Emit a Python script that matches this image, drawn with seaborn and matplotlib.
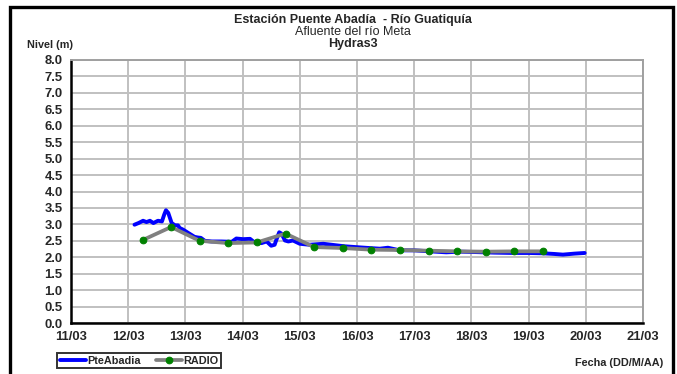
import pandas as pd
import matplotlib
matplotlib.use("Agg")
import matplotlib.pyplot as plt
from matplotlib import font_manager
import seaborn as sns
from matplotlib.patches import Rectangle

# --- data (day of March, level in m) ---
pte_day = [12.11, 12.18, 12.26, 12.32, 12.38, 12.44, 12.52, 12.59, 12.63, 12.66, 12.70,
           12.76, 12.82, 12.87, 12.90, 12.96, 13.05, 13.16, 13.22, 13.27, 13.34, 13.46,
           13.63, 13.81, 13.89, 14.01, 14.13, 14.21, 14.33, 14.42, 14.50, 14.56, 14.59,
           14.64, 14.68, 14.74, 14.80, 14.88, 15.00, 15.17, 15.41, 15.70, 15.81, 16.05,
           16.22, 16.40, 16.54, 16.75, 17.00, 17.27, 17.56, 17.80, 18.03, 18.40, 18.73,
           19.00, 19.25, 19.45, 19.60, 19.80, 19.98]
pte_level = [2.99, 3.04, 3.11, 3.07, 3.11, 3.04, 3.11, 3.09, 3.30, 3.43, 3.35,
             3.04, 2.97, 2.97, 2.89, 2.84, 2.74, 2.62, 2.60, 2.59, 2.50, 2.48,
             2.48, 2.47, 2.57, 2.55, 2.56, 2.45, 2.43, 2.48, 2.35, 2.38, 2.53,
             2.76, 2.72, 2.51, 2.48, 2.51, 2.41, 2.38, 2.41, 2.35, 2.33, 2.30,
             2.28, 2.26, 2.29, 2.21, 2.21, 2.18, 2.15, 2.17, 2.16, 2.14, 2.13,
             2.13, 2.12, 2.10, 2.08, 2.11, 2.13]

radio_day = [12.25, 12.75, 13.25, 13.75, 14.25, 14.75, 15.25, 15.75, 16.25, 16.75,
             17.25, 17.75, 18.25, 18.75, 19.25]
radio_level = [2.52, 2.92, 2.50, 2.43, 2.45, 2.72, 2.31, 2.28, 2.23, 2.22,
               2.20, 2.18, 2.17, 2.18, 2.18]

x_ticks = list(range(11, 22))
x_labels = ["11/03", "12/03", "13/03", "14/03", "15/03", "16/03", "17/03",
            "18/03", "19/03", "20/03", "21/03"]

df_pte = pd.DataFrame({"Dia": pte_day, "Nivel": pte_level})
df_radio = pd.DataFrame({"Dia": radio_day, "Nivel": radio_level})

sns.set_style("white")

# Arial-like font: pick the regular Liberation Sans files (not Narrow)
reg_file, bold_file = None, None
for f in font_manager.findSystemFonts():
    name = f.split("/")[-1]
    if name == "LiberationSans-Regular.ttf":
        reg_file = f
    elif name == "LiberationSans-Bold.ttf":
        bold_file = f
if reg_file and bold_file:
    fp_reg = font_manager.FontProperties(fname=reg_file)
    fp_bold = font_manager.FontProperties(fname=bold_file)
else:
    fp_reg = font_manager.FontProperties(family="DejaVu Sans")
    fp_bold = font_manager.FontProperties(family="DejaVu Sans", weight="bold")


def fp(base, size):
    p = base.copy()
    p.set_size(size)
    return p


fig = plt.figure(figsize=(6.77, 3.74), dpi=100)
ax = fig.add_axes([71 / 677, 1 - 323 / 374, 572 / 677, 263 / 374])

sns.lineplot(data=df_pte, x="Dia", y="Nivel", ax=ax, color="#0000FF",
             linewidth=2.8, label="PteAbadia")
sns.lineplot(data=df_radio, x="Dia", y="Nivel", ax=ax, color="#808080",
             linewidth=2.7, marker="o", markersize=4.8, markerfacecolor="#008000",
             markeredgecolor="#008000", label="RADIO")

ax.set_xlim(11, 21)
ax.set_ylim(0, 8)
ax.set_xticks(x_ticks)
ax.set_xticklabels(x_labels, fontproperties=fp(fp_bold, 9.4))
y_ticks = [i * 0.5 for i in range(17)]
ax.set_yticks(y_ticks)
ax.set_yticklabels([f"{v:.1f}" for v in y_ticks], fontproperties=fp(fp_bold, 9.4))
ax.set_xlabel("")
ax.set_ylabel("")
ax.grid(True, color="#C0C0C0", linewidth=1.4)
ax.set_axisbelow(True)
ax.tick_params(axis="both", direction="out", length=4, width=1.5, color="black", pad=2)
for s in ["left", "bottom"]:
    ax.spines[s].set_color("black")
    ax.spines[s].set_linewidth(1.8)
for s in ["top", "right"]:
    ax.spines[s].set_color("#A0A0A0")
    ax.spines[s].set_linewidth(1.4)

ax.get_legend().remove()
handles, labels = ax.get_legend_handles_labels()
leg = fig.legend(handles, labels, loc="center", bbox_to_anchor=(139 / 677, 1 - 360.5 / 374),
                 ncol=2, prop=fp(fp_bold, 7.8), frameon=True, fancybox=False,
                 handlelength=2.4, handletextpad=0.1, columnspacing=1.4, borderpad=0.25)
leg.get_frame().set_edgecolor("black")
leg.get_frame().set_linewidth(1.4)

# titles
fig.text(353 / 677, 1 - 20 / 374, "Estación Puente Abadía  - Río Guatiquía",
         ha="center", va="center", fontproperties=fp(fp_bold, 9.0))
fig.text(353 / 677, 1 - 32 / 374, "Afluente del río Meta",
         ha="center", va="center", fontproperties=fp(fp_reg, 9.0))
fig.text(353 / 677, 1 - 44 / 374, "Hydras3",
         ha="center", va="center", fontproperties=fp(fp_bold, 9.0))
fig.text(50 / 677, 1 - 45 / 374, "Nivel (m)", ha="center", va="center",
         fontproperties=fp(fp_bold, 7.8))
fig.text(663 / 677, 1 - 363 / 374, "Fecha (DD/M/AA)", ha="right", va="center",
         fontproperties=fp(fp_bold, 7.8))

# outer frame (bottom edge runs off the picture)
fig.patches.append(Rectangle((10 / 677, -0.02), 663 / 677, 1 - 7 / 374 + 0.02,
                             transform=fig.transFigure, fill=False,
                             edgecolor="black", linewidth=2.4))

fig.savefig("out.png", dpi=100)
